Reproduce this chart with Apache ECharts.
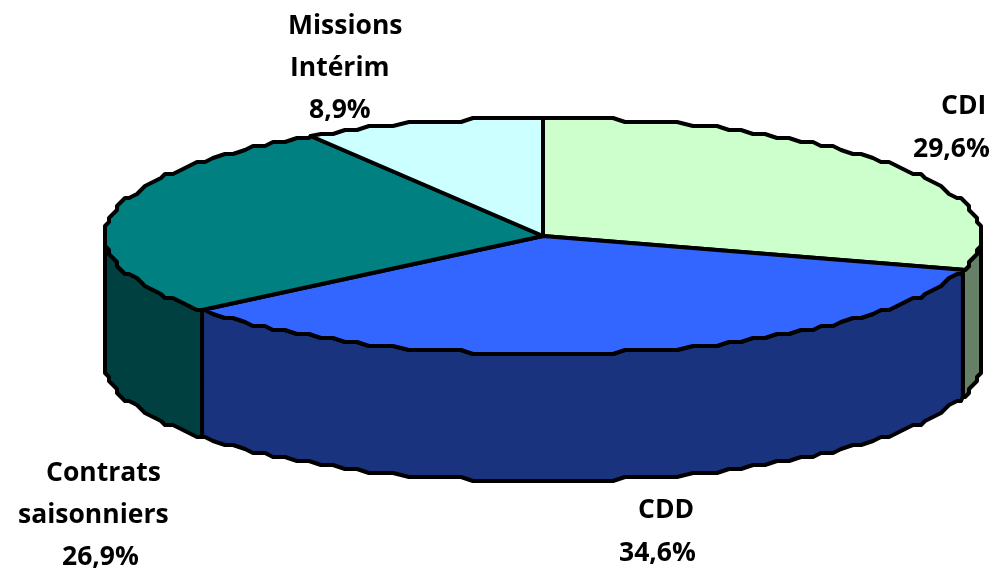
<!DOCTYPE html>
<html><head><meta charset="utf-8">
<style>html,body{margin:0;padding:0;background:#fff}#c{width:996px;height:569px}</style>
<script src="https://cdn.jsdelivr.net/npm/echarts@6/dist/echarts.min.js"></script>
</head><body><div id="c"></div>
<script>
// Data, clockwise from the top of the pie
const categories = ['CDI', 'CDD', 'Contrats saisonniers', 'Missions Intérim'];
const values = [29.6, 34.6, 26.9, 8.9];
const valueLabels = ['29,6%', '34,6%', '26,9%', '8,9%'];
const nameLines = [['CDI'], ['CDD'], ['Contrats', 'saisonniers'], ['Missions', 'Intérim']];

// Styles
const topColors = ['#CCFFCC', '#3366FF', '#008080', '#CCFFFF'];
const wallColors = ['#668066', '#1A337F', '#004040', '#668080'];

// Layout of the projected pie
const cx = 543, cy = 236, rx = 438, ry = 118, depth = 127;
const gridX = 4, gridY = 4, stepDeg = 1.8, lineW = 4;
// Left x of each label line, and its baseline y (name lines then value)
const labelX = [[941, 913], [638, 619], [46, 18, 62], [288, 290, 309]];
const labelY = [[114, 157], [518, 561], [481, 523, 565], [34, 76, 118]];
const baselineShift = 6;

const total = values.reduce((a, b) => a + b, 0);
const starts = [];
values.reduce((acc, v, i) => { starts[i] = acc; return acc + v; }, 0);

function rimPoint(deg, dy) {
  const t = deg * Math.PI / 180;
  const x = cx + rx * Math.sin(t), y = cy - ry * Math.cos(t);
  return [Math.round((x - 1) / gridX) * gridX + 1, Math.round((y - 2) / gridY) * gridY + 2 + dy];
}
function rimPath(a0, a1, dy) {
  const pts = [];
  const exact = d => { const t = d * Math.PI / 180; return [cx + rx * Math.sin(t), cy - ry * Math.cos(t) + dy]; };
  pts.push(exact(a0));
  const n0 = Math.floor(a0 / stepDeg) + 1;
  for (let n = n0; n * stepDeg < a1 - 0.01; n++) pts.push(rimPoint(n * stepDeg, dy));
  pts.push(exact(a1));
  return pts;
}
const angleOf = v => v / total * 360;

function wallItem(params) {
  const i = params.dataIndex;
  const a0 = angleOf(starts[i]), a1 = angleOf(starts[i] + values[i]);
  const lo = Math.max(a0, 90), hi = Math.min(a1, 270);
  if (hi <= lo) return { type: 'group', children: [] };
  const pts = rimPath(lo, hi, 0).concat(rimPath(lo, hi, depth).reverse());
  return { type: 'polygon', shape: { points: pts },
    style: { fill: wallColors[i], stroke: '#000', lineWidth: lineW, lineJoin: 'round' } };
}
function topItem(params) {
  const i = params.dataIndex;
  const a0 = angleOf(starts[i]), a1 = angleOf(starts[i] + values[i]);
  const pts = [[cx, cy]].concat(rimPath(a0, a1, 0));
  return { type: 'polygon', shape: { points: pts },
    style: { fill: topColors[i], stroke: '#000', lineWidth: lineW, lineJoin: 'round' } };
}
function labelItem(params) {
  const i = params.dataIndex;
  const lines = nameLines[i].concat(valueLabels[i]);
  return { type: 'group', children: lines.map((s, k) => ({
    type: 'text',
    style: { text: s, x: labelX[i][k], y: labelY[i][k] + baselineShift, fill: '#000',
      font: '700 26.5px "Open Sans", sans-serif', textAlign: 'left', textVerticalAlign: 'bottom' }
  })) };
}

const chart = echarts.init(document.getElementById('c'), null, { renderer: 'canvas' });
const seriesData = values.map((v, i) => ({ name: categories[i], value: v }));
chart.setOption({
  animation: false,
  backgroundColor: '#fff',
  series: [
    { type: 'custom', coordinateSystem: 'none', silent: true, z: 1, renderItem: wallItem, data: seriesData },
    { type: 'custom', coordinateSystem: 'none', silent: true, z: 2, renderItem: topItem, data: seriesData },
    { type: 'custom', coordinateSystem: 'none', silent: true, z: 3, renderItem: labelItem, data: seriesData }
  ]
});
</script></body></html>
